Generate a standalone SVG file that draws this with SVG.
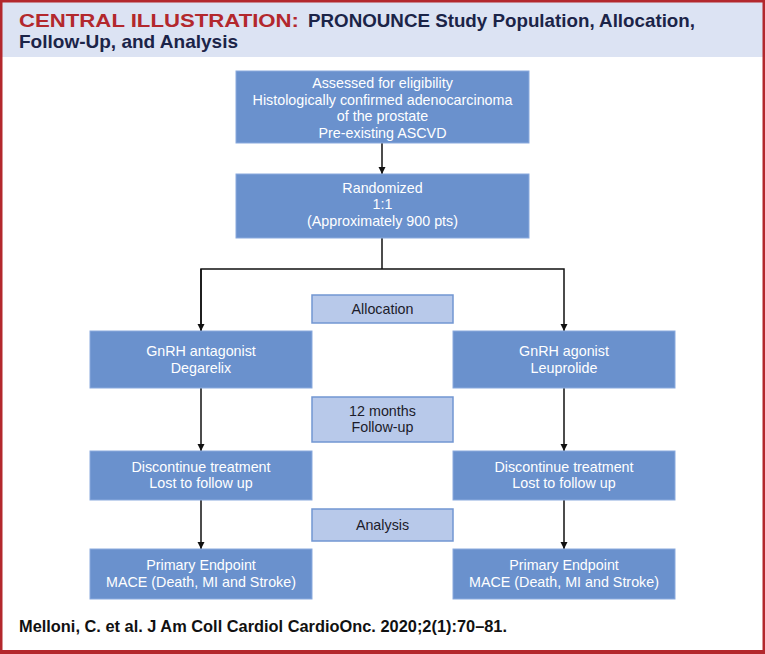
<svg xmlns="http://www.w3.org/2000/svg" width="765" height="654" viewBox="0 0 765 654">
  <style>
    .dark { fill: #6a91cd; stroke: #8aaade; stroke-width: 1; }
    .light { fill: #b8c9ea; stroke: #7296d2; stroke-width: 1.5; }
    .wt { font-family: "Liberation Sans", Arial, sans-serif; font-size: 14.3px; fill: #ffffff; text-anchor: middle; }
    .bt { font-family: "Liberation Sans", Arial, sans-serif; font-size: 14.3px; fill: #1c1c2a; text-anchor: middle; }
    .conn { stroke: #111111; stroke-width: 1.5; fill: none; }
    .title { font-family: "Liberation Sans", Arial, sans-serif; font-size: 19px; font-weight: bold; }
  </style>
  <defs>
    <marker id="arrow" viewBox="0 0 10 10" refX="10" refY="5" markerWidth="7" markerHeight="8" markerUnits="userSpaceOnUse" orient="auto">
      <path d="M0,0 L10,5 L0,10 Z" fill="#111111"/>
    </marker>
  </defs>

  <rect x="0" y="0" width="765" height="654" fill="#ffffff"/>
  <!-- header -->
  <g id="header">
    <rect x="0" y="0" width="765" height="57" fill="#dce3f3"/>
    <text class="title" x="19" y="27" fill="#b3282d" textLength="280" lengthAdjust="spacingAndGlyphs">CENTRAL ILLUSTRATION:</text>
    <text class="title" x="308" y="27" fill="#1b2448" textLength="387" lengthAdjust="spacingAndGlyphs">PRONOUNCE Study Population, Allocation,</text>
    <text class="title" x="19" y="47.5" fill="#1b2448" textLength="219" lengthAdjust="spacingAndGlyphs">Follow-Up, and Analysis</text>
  </g>

  <!-- connectors -->
  <g id="connectors">
    <line class="conn" x1="382" y1="143" x2="382" y2="174" marker-end="url(#arrow)"/>
    <polyline class="conn" points="382,238 382,269"/>
    <polyline class="conn" points="201,331 201,269 564,269 564,331" marker-end="url(#arrow)"/>
    <path class="conn" d="M201,269 L201,331" marker-end="url(#arrow)"/>
    <line class="conn" x1="201" y1="388" x2="201" y2="451" marker-end="url(#arrow)"/>
    <line class="conn" x1="564" y1="388" x2="564" y2="451" marker-end="url(#arrow)"/>
    <line class="conn" x1="201" y1="500" x2="201" y2="549" marker-end="url(#arrow)"/>
    <line class="conn" x1="564" y1="500" x2="564" y2="549" marker-end="url(#arrow)"/>
  </g>

  <g id="eligibility">
    <rect class="dark" x="236" y="71" width="293" height="72"/>
    <text class="wt" x="382.5" y="88">Assessed for eligibility</text>
    <text class="wt" x="382.5" y="104.7">Histologically confirmed adenocarcinoma</text>
    <text class="wt" x="382.5" y="121.3">of the prostate</text>
    <text class="wt" x="382.5" y="138">Pre-existing ASCVD</text>
  </g>

  <g id="randomized">
    <rect class="dark" x="236" y="174" width="293" height="64"/>
    <text class="wt" x="382.5" y="192.7">Randomized</text>
    <text class="wt" x="382.5" y="209.3">1:1</text>
    <text class="wt" x="382.5" y="226">(Approximately 900 pts)</text>
  </g>

  <g id="allocation">
    <rect class="light" x="312" y="295" width="141" height="28"/>
    <text class="bt" x="382.5" y="314">Allocation</text>
  </g>

  <g id="antagonist">
    <rect class="dark" x="90" y="331" width="222" height="57"/>
    <text class="wt" x="201" y="356">GnRH antagonist</text>
    <text class="wt" x="201" y="372.5">Degarelix</text>
  </g>

  <g id="agonist">
    <rect class="dark" x="453" y="331" width="222" height="57"/>
    <text class="wt" x="564" y="356">GnRH agonist</text>
    <text class="wt" x="564" y="372.5">Leuprolide</text>
  </g>

  <g id="followup">
    <rect class="light" x="312" y="397" width="141" height="45"/>
    <text class="bt" x="382.5" y="415.7">12 months</text>
    <text class="bt" x="382.5" y="432.3">Follow-up</text>
  </g>

  <g id="discontinue-left">
    <rect class="dark" x="90" y="451" width="222" height="49"/>
    <text class="wt" x="201" y="471.5">Discontinue treatment</text>
    <text class="wt" x="201" y="488">Lost to follow up</text>
  </g>

  <g id="discontinue-right">
    <rect class="dark" x="453" y="451" width="222" height="49"/>
    <text class="wt" x="564" y="471.5">Discontinue treatment</text>
    <text class="wt" x="564" y="488">Lost to follow up</text>
  </g>

  <g id="analysis">
    <rect class="light" x="312" y="509" width="141" height="32"/>
    <text class="bt" x="382.5" y="529.5">Analysis</text>
  </g>

  <g id="endpoint-left">
    <rect class="dark" x="90" y="549" width="222" height="50"/>
    <text class="wt" x="201" y="570">Primary Endpoint</text>
    <text class="wt" x="201" y="586.5">MACE (Death, MI and Stroke)</text>
  </g>

  <g id="endpoint-right">
    <rect class="dark" x="453" y="549" width="222" height="50"/>
    <text class="wt" x="564" y="570">Primary Endpoint</text>
    <text class="wt" x="564" y="586.5">MACE (Death, MI and Stroke)</text>
  </g>

  <g id="citation">
    <text x="19" y="632" font-family="Liberation Sans, Arial, sans-serif" font-size="17" font-weight="bold" fill="#111111" textLength="488" lengthAdjust="spacingAndGlyphs">Melloni, C. et al. J Am Coll Cardiol CardioOnc. 2020;2(1):70–81.</text>
  </g>

  <!-- frame -->
  <rect x="1.25" y="1.25" width="762.5" height="651.5" fill="none" stroke="#b3282d" stroke-width="2.5"/>
  <rect x="0" y="650" width="765" height="4" fill="#b3282d"/>
</svg>
